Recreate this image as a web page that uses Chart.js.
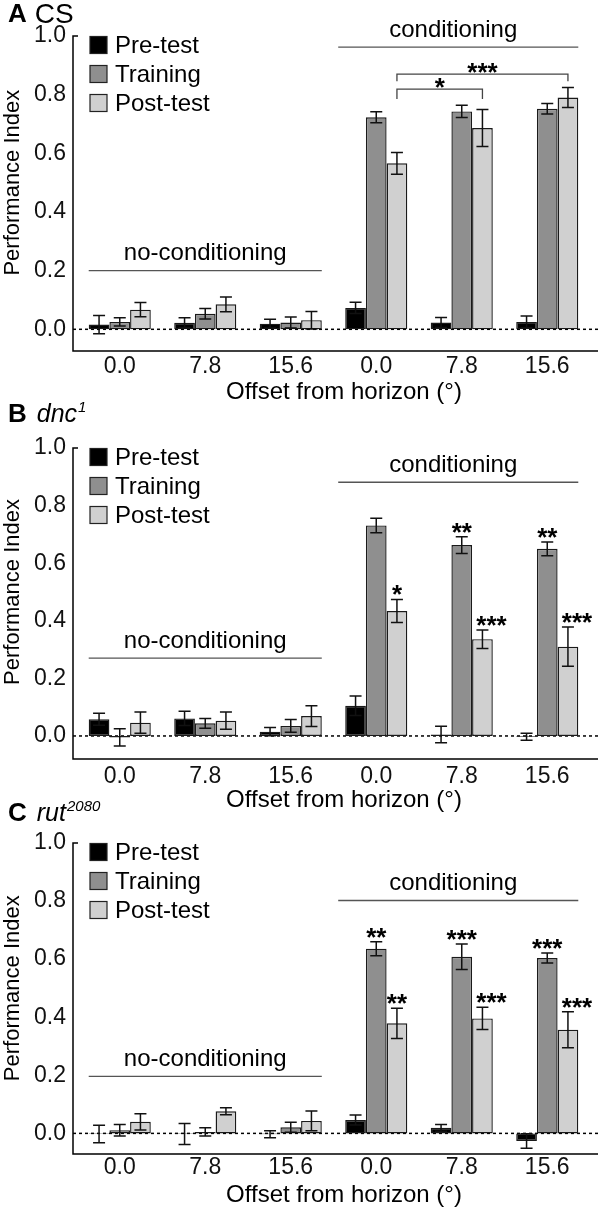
<!DOCTYPE html>
<html>
<head>
<meta charset="utf-8">
<script src="https://cdn.jsdelivr.net/npm/chart.js@4.4.1/dist/chart.umd.min.js"></script>
<style>
  body { margin: 0; background: #fff; }
  #wrap { position: relative; width: 600px; height: 1211px; }
  #wrap canvas { position: absolute; left: 0; top: 0; }
</style>
</head>
<body>
<div id="wrap">
  <canvas id="cA" width="600" height="1211"></canvas>
  <canvas id="cB" width="600" height="1211"></canvas>
  <canvas id="cC" width="600" height="1211"></canvas>
</div>
<script>
// categories and ticks
const categories = ['0.0', '7.8', '15.6', '0.0', '7.8', '15.6'];
const seriesNames = ['Pre-test', 'Training', 'Post-test'];
const yTicks = [0, 0.2, 0.4, 0.6, 0.8, 1.0];

// A: CS
const csPre = [0.016, 0.022, 0.019, 0.073, 0.023, 0.025];
const csPreErr = [0.031, 0.017, 0.015, 0.019, 0.017, 0.020];
const csTrain = [0.025, 0.053, 0.023, 0.723, 0.743, 0.752];
const csTrainErr = [0.014, 0.018, 0.019, 0.019, 0.021, 0.018];
const csPost = [0.067, 0.085, 0.031, 0.566, 0.686, 0.790];
const csPostErr = [0.024, 0.025, 0.030, 0.037, 0.063, 0.034];
const csBrackets = [
  { from: 3, to: 4, level: 0.819, drop: 0.785, label: '*' },
  { from: 3, to: 5, level: 0.870, drop: 0.846, label: '***' }
];

// B: dnc1
const dncPre = [0.058, 0.061, 0.015, 0.105, 0.005, -0.003];
const dncPreErr = [0.021, 0.025, 0.014, 0.034, 0.029, 0.012];
const dncTrain = [-0.005, 0.044, 0.035, 0.731, 0.663, 0.650];
const dncTrainErr = [0.030, 0.017, 0.022, 0.025, 0.029, 0.024];
const dncPost = [0.046, 0.053, 0.069, 0.434, 0.336, 0.310];
const dncPostErr = [0.037, 0.030, 0.036, 0.040, 0.032, 0.068];
const dncTrainSig = ['', '', '', '', '**', '**'];
const dncPostSig = ['', '', '', '*', '***', '***'];

// C: rut2080
const rutPre = [-0.002, -0.002, -0.003, 0.046, 0.019, -0.026];
const rutPreErr = [0.030, 0.036, 0.012, 0.017, 0.012, 0.025];
const rutTrain = [0.011, 0.005, 0.021, 0.636, 0.608, 0.604];
const rutTrainErr = [0.020, 0.014, 0.017, 0.024, 0.044, 0.017];
const rutPost = [0.040, 0.076, 0.043, 0.379, 0.396, 0.357];
const rutPostErr = [0.028, 0.012, 0.034, 0.052, 0.038, 0.062];
const rutTrainSig = ['', '', '', '**', '***', '***'];
const rutPostSig = ['', '', '', '**', '***', '***'];

const FONT = '"Liberation Sans", Arial, Helvetica, sans-serif';
const fills = ['#000000', '#8f8f8f', '#d0d0d0'];
const STAR = 26;

const overlay = {
  id: 'overlay',
  beforeDatasetsDraw(chart) {
    const { ctx, chartArea: a, scales: { y } } = chart;
    const y0 = y.getPixelForValue(0);
    ctx.save();
    ctx.setLineDash([3, 3]);
    ctx.lineWidth = 1.5;
    ctx.strokeStyle = '#000';
    ctx.beginPath(); ctx.moveTo(a.left - 4, y0); ctx.lineTo(a.right + 8, y0); ctx.stroke();
    ctx.restore();
  },
  afterDatasetsDraw(chart, args, o) {
    const { ctx, chartArea: a, scales: { y } } = chart;
    const metas = [0, 1, 2].map(i => chart.getDatasetMeta(i).data);
    const axX = a.left - 4;
    ctx.save();

    // axes (L shape with small hook at the top)
    ctx.strokeStyle = '#000'; ctx.lineWidth = 1.5;
    ctx.beginPath();
    ctx.moveTo(axX + 5, a.top); ctx.lineTo(axX, a.top);
    ctx.lineTo(axX, a.bottom); ctx.lineTo(a.right + 8, a.bottom);
    ctx.stroke();

    // error bars
    ctx.strokeStyle = '#111'; ctx.lineWidth = 1.5;
    o.errors.forEach((errs, di) => {
      const vals = chart.data.datasets[di].data;
      metas[di].forEach((bar, i) => {
        const hi = y.getPixelForValue(vals[i] + errs[i]);
        const lo = y.getPixelForValue(vals[i] - errs[i]);
        ctx.beginPath();
        ctx.moveTo(bar.x, hi); ctx.lineTo(bar.x, lo);
        ctx.moveTo(bar.x - 6, hi); ctx.lineTo(bar.x + 6, hi);
        ctx.moveTo(bar.x - 6, lo); ctx.lineTo(bar.x + 6, lo);
        ctx.stroke();
      });
    });

    // stars over bars
    ctx.fillStyle = '#000';
    ctx.font = 'bold ' + STAR + 'px ' + FONT;
    ctx.textAlign = 'center'; ctx.textBaseline = 'alphabetic';
    (o.sig || []).forEach((sigs, di) => {
      if (!sigs) return;
      const vals = chart.data.datasets[di].data;
      const errs = o.errors[di];
      metas[di].forEach((bar, i) => {
        const s = sigs[i];
        if (!s) return;
        const cy = y.getPixelForValue(vals[i] + errs[i]) - 11;
        const dx = (di === 2 && s.length === 3) ? 9 : 0;
        ctx.fillText(s, bar.x + dx, cy + STAR * 0.57);
      });
    });

    // brackets
    ctx.lineWidth = 1.3; ctx.strokeStyle = '#444';
    (o.brackets || []).forEach(b => {
      const x1 = metas[2][b.from].x, x2 = metas[2][b.to].x;
      const yl = y.getPixelForValue(b.level), yd = y.getPixelForValue(b.drop);
      ctx.beginPath();
      ctx.moveTo(x1, yd); ctx.lineTo(x1, yl); ctx.lineTo(x2, yl); ctx.lineTo(x2, yd);
      ctx.stroke();
      ctx.fillText(b.label, (x1 + x2) / 2, yl - 8 + STAR * 0.57);
    });

    // group lines + labels
    const left = i => metas[0][i].x - metas[0][i].width / 2;
    const right = i => metas[2][i].x + metas[2][i].width / 2;
    ctx.strokeStyle = '#555'; ctx.lineWidth = 1.3;
    ctx.font = '24px ' + FONT; ctx.textBaseline = 'middle';
    [[o.noCond, left(0), right(2), 'no-conditioning', 0],
     [o.cond, left(3) - 7, right(5), 'conditioning', -5]].forEach(([lvl, x1, x2, txt, dx]) => {
      const yy = y.getPixelForValue(lvl);
      ctx.beginPath(); ctx.moveTo(x1, yy); ctx.lineTo(x2, yy); ctx.stroke();
      ctx.fillText(txt, (x1 + x2) / 2 + dx, yy - 17);
    });

    // legend
    ctx.textAlign = 'left';
    seriesNames.forEach((n, i) => {
      const cy = a.top + 9 + i * 29;
      ctx.fillStyle = fills[i];
      ctx.fillRect(axX + 17, cy - 8.5, 17, 17);
      ctx.strokeStyle = '#222'; ctx.lineWidth = 1.2;
      ctx.strokeRect(axX + 17, cy - 8.5, 17, 17);
      ctx.fillStyle = '#000';
      ctx.fillText(n, axX + 42, cy + 1);
    });

    // axis titles
    ctx.fillStyle = '#000';
    ctx.textAlign = 'center'; ctx.textBaseline = 'middle';
    ctx.font = '24px ' + FONT;
    ctx.fillText('Offset from horizon (\u00b0)', 344, a.bottom + 41);
    ctx.font = '22px ' + FONT;
    ctx.save();
    ctx.translate(12, y.getPixelForValue(0.5));
    ctx.rotate(-Math.PI / 2);
    ctx.fillText('Performance Index', 0, 1);
    ctx.restore();

    // panel title
    const t = o.title;
    ctx.textAlign = 'left'; ctx.textBaseline = 'middle';
    ctx.font = 'bold 26px ' + FONT;
    ctx.fillText(t.letter, 8, t.y);
    let x = 8 + ctx.measureText(t.letter).width + (t.italic ? 10 : 8);
    ctx.font = (t.italic ? 'italic ' : '') + t.size + 'px ' + FONT;
    ctx.fillText(t.name, x, t.y);
    if (t.sup) {
      x += ctx.measureText(t.name).width + 1;
      ctx.font = 'italic 15px ' + FONT;
      ctx.fillText(t.sup, x, t.y - 7);
    }
    ctx.restore();
  }
};

function makePanel(id, cfg) {
  return new Chart(document.getElementById(id), {
    type: 'bar',
    data: {
      labels: categories,
      datasets: cfg.series.map((d, i) => ({
        label: seriesNames[i],
        data: d,
        backgroundColor: fills[i],
        borderColor: '#1a1a1a',
        borderWidth: 1.4,
        borderSkipped: false,
        categoryPercentage: 0.726,
        barPercentage: 1.0
      }))
    },
    options: {
      responsive: false,
      animation: false,
      devicePixelRatio: 1,
      layout: { padding: { top: cfg.top, right: 10, left: 0, bottom: 0 } },
      plugins: {
        legend: { display: false },
        tooltip: { enabled: false },
        overlay: {
          errors: cfg.errors, sig: cfg.sig, brackets: cfg.brackets,
          noCond: cfg.noCond, cond: cfg.cond, title: cfg.title
        }
      },
      scales: {
        x: {
          offset: true,
          grid: { display: false, drawTicks: false },
          border: { display: false },
          ticks: { color: '#111', font: { family: FONT, size: 23, lineHeight: 1.2 }, padding: cfg.tickPad, maxRotation: 0, autoSkip: false },
          afterFit: s => { s.height = 1211 - cfg.bottom; }
        },
        y: {
          min: cfg.min, max: 1.0,
          grid: { display: false, drawTicks: false },
          border: { display: false },
          ticks: { color: '#111', font: { family: FONT, size: 23 }, padding: 11, callback: v => v.toFixed(1) },
          afterBuildTicks: s => { s.ticks = yTicks.map(v => ({ value: v })); },
          afterFit: s => { s.width = 77; }
        }
      }
    },
    plugins: [overlay]
  });
}

makePanel('cA', {
  series: [csPre, csTrain, csPost], errors: [csPreErr, csTrainErr, csPostErr],
  sig: null, brackets: csBrackets, noCond: 0.2, cond: 0.962,
  min: -0.074, top: 36, bottom: 351, tickPad: 2,
  title: { letter: 'A', name: 'CS', italic: false, size: 28, y: 15 }
});
makePanel('cB', {
  series: [dncPre, dncTrain, dncPost], errors: [dncPreErr, dncTrainErr, dncPostErr],
  sig: [null, dncTrainSig, dncPostSig], brackets: [], noCond: 0.27, cond: 0.881,
  min: -0.08, top: 448, bottom: 759, tickPad: 4,
  title: { letter: 'B', name: 'dnc', sup: '1', italic: true, size: 25, y: 415 }
});
makePanel('cC', {
  series: [rutPre, rutTrain, rutPost], errors: [rutPreErr, rutTrainErr, rutPostErr],
  sig: [null, rutTrainSig, rutPostSig], brackets: [], noCond: 0.196, cond: 0.802,
  min: -0.071, top: 843, bottom: 1154, tickPad: 0,
  title: { letter: 'C', name: 'rut', sup: '2080', italic: true, size: 25, y: 814 }
});
</script>
</body>
</html>
